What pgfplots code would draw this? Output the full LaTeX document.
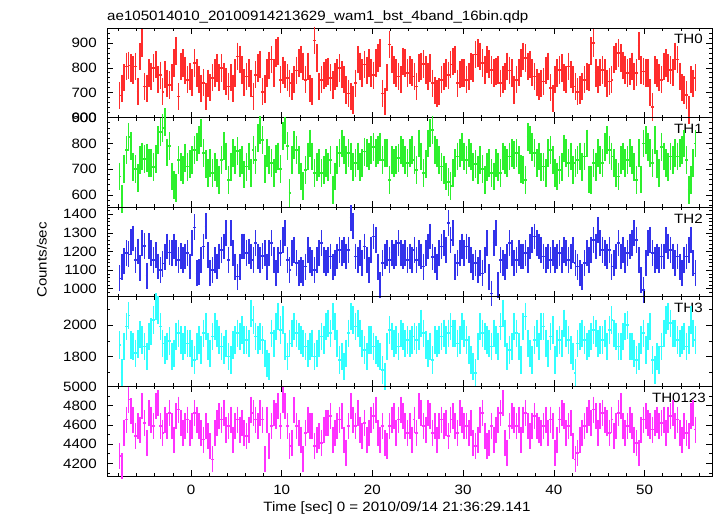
\documentclass[border=0pt]{standalone}
\usepackage{pgfplots}
\pgfplotsset{compat=1.18}
\usepackage{pgfplotstable}
\usepackage{fontspec}
\setmainfont{Liberation Sans}[FakeStretch=1.12]
\definecolor{qred}{RGB}{255,45,45}
\definecolor{qgreen}{RGB}{45,240,45}
\definecolor{qblue}{RGB}{50,50,235}
\definecolor{qcyan}{RGB}{50,255,255}
\definecolor{qmag}{RGB}{255,50,255}

\pgfplotstableread{
t a b c d e
-7.875 688 672 1056 1874 4276
-7.625 718 585 1119 1695 4172
-7.375 760 700 1150 1863 4517
-7.125 805 775 1191 1990 4655
-6.875 810 826 1185 2060 4862
-6.625 800 790 1250 1874 4740
-6.375 792 710 1270 1863 4655
-6.125 806 700 1155 1821 4483
-5.875 704 665 1200 1880 4586
-5.625 845 736 1110 1940 4552
-5.375 900 749 1245 1905 4793
-5.125 725 740 1230 1863 4620
-4.875 718 745 1070 1800 4414
-4.625 779 723 1230 1927 4724
-4.375 765 723 1190 1960 4655
-4.125 799 708 1155 2032 4586
-3.875 813 740 1180 2116 4793
-3.625 752 813 1120 2095 4828
-3.375 770 845 1101 1990 4586
-3.125 704 860 1135 1884 4517
-2.875 772 883 1170 1842 4655
-2.625 738 765 1227 1863 4586
-2.375 731 790 1195 1900 4724
-2.125 760 672 1190 1800 4586
-1.875 819 640 1227 1821 4448
-1.625 867 628 1191 1927 4690
-1.375 684 736 1155 1948 4759
-1.125 806 710 1175 1905 4621
-0.875 819 698 1155 1863 4517
-0.625 790 745 1173 1905 4586
-0.375 752 710 1191 1884 4655
-0.125 765 720 1120 1884 4517
0.125 740 736 1245 1821 4586
0.375 819 775 1330 1779 4724
0.625 779 787 1083 1863 4655
0.875 752 813 1090 1905 4586
1.125 718 839 1155 1842 4517
1.375 740 762 1227 1948 4448
1.625 684 720 1335 1990 4586
1.875 738 685 1180 1863 4483
2.125 720 723 1083 1821 4379
2.375 760 685 1101 1927 4241
2.625 779 710 1155 1990 4517
2.875 799 685 1120 1948 4621
3.125 760 659 1173 1905 4690
3.375 799 736 1209 1863 4655
3.625 765 790 1227 1842 4724
3.875 745 749 1299 1884 4552
4.125 725 659 1155 1800 4586
4.375 760 710 1299 1779 4655
4.625 718 762 1191 1874 4448
4.875 779 736 1119 1905 4586
5.125 846 770 1065 1948 4655
5.375 833 723 1119 1927 4552
5.625 792 736 1227 1969 4621
5.875 740 680 1227 1905 4517
6.125 765 710 1191 1905 4483
6.375 779 749 1200 1884 4552
6.625 738 685 1173 2074 4759
6.875 684 775 1155 2032 4724
7.125 772 736 1245 1927 4655
7.375 800 820 1173 1905 4586
7.625 813 851 1155 1927 4724
7.875 704 813 1175 1905 4655
8.125 715 700 1191 1821 4241
8.375 779 762 1119 1758 4655
8.625 810 736 1191 1737 4379
8.875 833 723 1245 1948 4586
9.125 779 685 1155 1884 4724
9.375 860 740 1083 1990 4690
9.625 867 749 1155 2053 4793
9.875 752 700 1191 1969 4586
10.125 790 830 1263 2032 4862
10.375 772 850 1299 1863 4793
10.625 760 790 1155 1800 4586
10.875 738 609 1101 1884 4379
11.125 725 736 1191 1948 4414
11.375 752 795 1209 1990 4750
11.625 790 775 1137 1948 4586
11.875 820 736 1083 1927 4517
12.125 833 672 1101 1905 4448
12.375 806 634 1083 1884 4241
12.625 752 698 1119 1863 4517
12.875 806 749 1209 1821 4655
13.125 718 800 1155 1863 4586
13.375 704 749 1137 1884 4586
13.625 910 685 1101 1800 4379
13.875 840 710 1155 1821 4448
14.125 725 723 1191 1884 4483
14.375 752 685 1245 1927 4414
14.625 770 698 1155 1905 4552
14.875 779 723 1137 1990 4620
15.125 785 710 1155 2011 4621
15.375 760 736 1173 1948 4690
15.625 731 621 1119 2053 4448
15.875 765 672 1140 1990 4517
16.125 779 736 1173 1884 4586
16.375 799 762 1209 1779 4655
16.625 772 800 1191 1800 4690
16.875 752 775 1209 1737 4448
17.125 711 736 1173 1821 4310
17.375 697 762 1209 1948 4586
17.625 684 749 1380 2053 4793
17.875 670 710 1335 2032 4655
18.125 738 723 1173 1990 4586
18.375 833 749 1155 2011 4724
18.625 806 710 1191 1948 4552
18.875 779 723 1137 1884 4483
19.125 813 768 1227 1842 4621
19.375 790 762 1155 1800 4448
19.625 819 749 1101 1905 4517
19.875 779 775 1209 1905 4655
20.125 770 787 1281 1863 4690
20.375 819 762 1263 1842 4759
20.625 840 775 1119 1821 4517
20.875 860 787 1020 1800 4448
21.125 697 736 1137 1716 4586
21.375 664 762 1173 1674 4414
21.625 760 762 1191 1863 4379
21.875 894 659 1155 1969 4586
22.125 833 736 1191 1927 4655
22.375 792 723 1173 1884 4690
22.625 779 736 1191 1905 4517
22.875 765 743 1245 1863 4655
23.125 752 775 1191 1948 4759
23.375 826 762 1173 1927 4690
23.625 819 736 1191 1884 4586
23.875 779 723 1155 1905 4517
24.125 792 762 1173 1884 4586
24.375 780 775 1155 1905 4448
24.625 765 736 1209 1927 4655
24.875 725 698 1155 1905 4517
25.125 799 800 1191 1927 4793
25.375 806 749 1173 2011 4724
25.625 815 685 1119 1948 4586
25.875 792 720 1191 1874 4552
26.125 765 800 1227 1821 4724
26.375 799 839 1281 1863 4690
26.625 738 851 1170 1779 4517
26.875 710 775 1155 1905 4586
27.125 697 762 1119 1884 4448
27.375 704 736 1191 1905 4586
27.625 752 710 1227 1927 4655
27.875 765 698 1245 1948 4586
28.125 779 672 1209 1905 4621
28.375 770 651 1353 1948 4483
28.625 813 634 1263 1990 4655
28.875 826 685 1299 1948 4690
29.125 833 723 1119 1948 4586
29.375 738 749 1137 1884 4517
29.625 772 762 1191 1905 4724
29.875 779 787 1227 1990 4655
30.125 779 749 1191 1948 4586
30.375 752 736 1227 1905 4586
30.625 765 762 1209 1842 4517
30.875 806 749 1155 1779 4620
31.125 800 710 1119 1737 4414
31.375 853 720 1137 1695 4379
31.625 860 698 1101 1863 4448
31.875 846 736 1137 1990 4655
32.125 820 700 1083 1948 4724
32.375 792 659 1155 1927 4483
32.625 833 710 1245 1905 4379
32.875 815 723 1065 1884 4414
33.125 792 685 975 1863 4586
33.375 779 672 1245 1948 4448
33.625 785 723 1299 1905 4552
33.875 792 710 1020 1863 4655
34.125 738 685 1155 1990 4724
34.375 752 749 1137 2074 4828
34.625 765 736 1119 1948 4414
34.875 806 725 1173 1800 4310
35.125 790 749 1245 1842 4586
35.375 779 762 1191 1863 4690
35.625 711 755 1137 1990 4655
35.875 752 762 1155 1948 4586
36.125 780 736 1191 1863 4655
36.375 819 700 1173 1779 4448
36.625 846 698 1173 1990 4655
36.875 840 659 1191 2053 4724
37.125 806 826 1155 1884 4586
37.375 813 813 1227 1821 4483
37.625 780 787 1263 1779 4586
37.875 765 762 1281 1905 4690
38.125 740 723 1245 1948 4586
38.375 725 749 1227 1863 4552
38.625 738 710 1209 1990 4517
38.875 745 710 1173 1990 4586
39.125 790 685 1155 1884 4655
39.375 806 762 1173 1821 4517
39.625 720 775 1155 1927 4655
39.875 677 736 1191 1969 4586
40.125 752 685 1155 1779 4310
40.375 779 672 1173 1884 4448
40.625 792 698 1191 1905 4655
40.875 799 710 1155 1884 4724
41.125 760 780 1209 2011 4690
41.375 752 762 1191 1948 4517
41.625 806 723 1155 1905 4586
41.875 772 749 1173 1842 4621
42.125 752 698 1209 1800 4379
42.375 725 723 1137 1695 4241
42.625 704 736 1119 1884 4310
42.875 711 749 1083 1927 4448
43.125 725 710 1065 1948 4517
43.375 752 749 1137 1905 4586
43.625 765 800 1191 1863 4655
43.875 760 660 1155 1884 4724
44.125 867 659 1209 1927 4621
44.375 900 723 1263 1969 4759
44.625 779 710 1227 1948 4690
44.875 752 762 1317 1884 4517
45.125 780 736 1245 1905 4690
45.375 792 723 1209 1905 4724
45.625 779 787 1191 1948 4655
45.875 738 813 1173 1863 4621
46.125 745 775 1209 1969 4517
46.375 752 749 1119 2032 4655
46.625 833 723 1137 1948 4483
46.875 846 685 1173 1927 4586
47.125 860 672 1245 1863 4724
47.375 840 736 1173 1863 4793
47.625 810 749 1209 1927 4586
47.875 792 723 1155 1990 4517
48.125 779 736 1191 2000 4586
48.375 785 762 1227 1863 4655
48.625 806 736 1245 1863 4586
48.875 765 710 1299 1821 4448
49.125 780 659 1263 1779 4414
49.375 887 762 1155 1800 4310
49.625 792 660 1047 1905 4552
49.875 785 800 993 1948 4655
50.125 779 813 1137 1842 4690
50.375 779 787 1245 1927 4621
50.625 700 762 1263 1990 4586
50.875 643 723 1191 1779 4552
51.125 792 813 1155 1716 4621
51.375 779 720 1173 1800 4655
51.625 760 685 1155 1779 4586
51.875 752 787 1173 1863 4621
52.125 806 749 1173 1948 4655
52.375 819 723 1263 2032 4517
52.625 800 710 1227 2053 4655
52.875 792 749 1209 2011 4690
53.125 780 736 1173 1948 4724
53.375 846 762 1137 1948 4586
53.625 833 749 1173 1905 4655
53.875 765 762 1119 1884 4517
54.125 720 775 1083 1905 4448
54.375 711 800 1155 1927 4586
54.625 690 736 1173 1863 4517
54.875 630 621 1209 1905 4483
55.125 752 659 1263 2032 4690
55.375 738 723 1137 1948 4724
55.625 760 800 1083 1905 4552
}\lc

\pgfplotsset{
  panel/.style={
    scale only axis, width=605pt, height=89.6pt,
    xmin=-9.26, xmax=57.44, anchor=south west,
    axis on top,
    axis line style={line width=0.9pt, black},
    tick align=inside, major tick length=6pt, minor tick length=3pt,
    every tick/.style={black, line width=0.6pt},
    xtick={0,10,...,50}, minor xtick={-8,-6,...,56}, xticklabels={},
    ticklabel style={font=\fontsize{13.5}{16}\selectfont},
    yticklabel style={anchor=east, inner sep=0pt, xshift=-10pt},
    xticklabel style={anchor=north, inner sep=0pt, yshift=-9pt},
    /pgf/number format/assume math mode=true,
    /pgf/number format/1000 sep={},
    scaled y ticks=false,
  },
  % horizontal bin steps plus a vertical error bar (mark |) per bin
  lcm/.style 2 args={draw=#1, line width=1.6pt, jump mark mid,
    mark=|, mark size=#2, mark options={draw=#1, line width=1.7pt}},
}
\tikzset{plab/.style={anchor=base east, inner sep=0pt, xshift=-9pt, yshift=-16pt}}

\begin{document}
\begin{tikzpicture}[font=\fontsize{13.5}{16}\selectfont]
\path[use as bounding box] (0,0) rectangle (717pt,516pt);

\begin{axis}[panel, at={(107pt,398.4pt)}, ymin=600, ymax=960,
  ytick={600,700,800,900}, minor ytick={620,640,...,940}]
\addplot[lcm={qred}{13.7pt}] table[x=t, y=a] {\lc};
\node[plab] at (rel axis cs:1,1) {TH0};
\end{axis}

\begin{axis}[panel, at={(107pt,308.8pt)}, ymin=553, ymax=900,
  ytick={600,700,800,900}, minor ytick={560,580,...,880}]
\addplot[lcm={qgreen}{13.9pt}] table[x=t, y=b] {\lc};
\node[plab] at (rel axis cs:1,1) {TH1};
\end{axis}

\begin{axis}[panel, at={(107pt,219.2pt)}, ymin=957, ymax=1438,
  ytick={1000,1100,...,1400}, minor ytick={960,980,...,1420}]
\addplot[lcm={qblue}{12.9pt}] table[x=t, y=c] {\lc};
\node[plab] at (rel axis cs:1,1) {TH2};
\end{axis}

\begin{axis}[panel, at={(107pt,129.6pt)}, ymin=1611, ymax=2179,
  ytick={1800,2000}, minor ytick={1700,1900,2100}]
\addplot[lcm={qcyan}{13.7pt}] table[x=t, y=d] {\lc};
\node[plab] at (rel axis cs:1,1) {TH3};
\end{axis}

\begin{axis}[panel, at={(107pt,40pt)}, ymin=4069, ymax=5000,
  ytick={4200,4400,4600,4800,5000}, minor ytick={4100,4300,4500,4700,4900},
  xticklabels={0,10,20,30,40,50}]
\addplot[lcm={qmag}{13.0pt}] table[x=t, y=e] {\lc};
\node[plab, xshift=3pt] at (rel axis cs:1,1) {TH0123};
\end{axis}

\node[anchor=base west, inner sep=0pt] at (107pt,495.5pt)
  {ae105014010\_20100914213629\_wam1\_bst\_4band\_16bin.qdp};
\node[rotate=90, anchor=base, inner sep=0pt] at (46.7pt,256pt) {Counts/sec};
\node[anchor=base, inner sep=0pt] at (397pt,4pt)
  {Time [sec] 0 = 2010/09/14 21:36:29.141};
\end{tikzpicture}
\end{document}
